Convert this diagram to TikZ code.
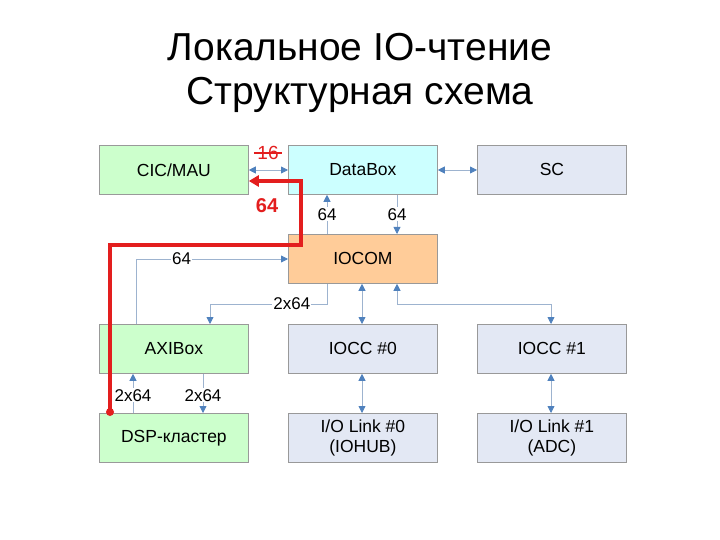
\documentclass[tikz,border=0pt]{standalone}
\usepackage{fontspec}
\setmainfont{Liberation Sans}
\usetikzlibrary{arrows.meta}
\definecolor{gr}{HTML}{CCFFCC}
\definecolor{cy}{HTML}{CCFFFF}
\definecolor{lv}{HTML}{E3E8F4}
\definecolor{og}{HTML}{FFCC99}
\definecolor{ln}{HTML}{9DB3CF}
\definecolor{ah}{HTML}{4F81BD}
\definecolor{rd}{HTML}{E31E1E}
\begin{document}
\begin{tikzpicture}[x=1pt,y=-1pt,
 box/.style={draw=gray!80,line width=0.8pt,minimum width=149pt,minimum height=49pt,inner sep=0pt,font=\fontsize{17.5}{20}\selectfont,align=center,anchor=north west},
 con/.style={draw=ln,line width=0.8pt,{Triangle[length=7pt,width=7pt,fill=ah,color=ah]}-{Triangle[length=7pt,width=7pt,fill=ah,color=ah]}},
 one/.style={draw=ln,line width=0.8pt,-{Triangle[length=7pt,width=7pt,fill=ah,color=ah]}},
 lb/.style={fill=white,inner sep=1pt,font=\fontsize{17}{19}\selectfont}]
\useasboundingbox (0,0) rectangle (720,540);
\node at (360,47) {\fontsize{39}{44}\selectfont Локальное IO-чтение};
\node at (360,95) {\fontsize{39}{44}\selectfont Структурная схема};
\node[box,fill=gr] (cic) at (99,145) {CIC/MAU};
\node[box,fill=cy] (db) at (288,145) {DataBox};
\node[box,fill=lv] (sc) at (477,145) {SC};
\node[box,fill=og] (io) at (288,234) {IOCOM};
\node[box,fill=gr] (axi) at (99,324) {AXIBox};
\node[box,fill=lv] (c0) at (288,324) {IOCC \#0};
\node[box,fill=lv] (c1) at (477,324) {IOCC \#1};
\node[box,fill=gr] (dsp) at (99,413) {DSP-кластер};
\node[box,fill=lv] (l0) at (288,413) {I/O Link \#0\\(IOHUB)};
\node[box,fill=lv] (l1) at (477,413) {I/O Link \#1\\(ADC)};
\path[con] (cic.east |- 0,170) -- (db.west |- 0,170);
\path[con] (db.east |- 0,170) -- (sc.west |- 0,170);
\path[one] (327,0 |- io.north) -- (327,0 |- db.south) node[pos=0.5,lb] {64};
\path[one] (397,0 |- db.south) -- (397,0 |- io.north) node[pos=0.5,lb] {64};
\path[one] (136,0 |- axi.north) |- (io.west |- 0,259) node[pos=0.65,lb] {64};
\path[one] (327,0 |- io.south) |- (210,304) node[pos=0.65,lb] {2x64} -- (210,0 |- axi.north);
\path[con] (362,0 |- io.south) -- (362,0 |- c0.north);
\path[con] (397,0 |- io.south) -- (397,304) -| (551,0 |- c1.north);
\path[one] (133,0 |- dsp.north) -- (133,0 |- axi.south) node[pos=0.45,lb] {2x64};
\path[one] (203,0 |- axi.south) -- (203,0 |- dsp.north) node[pos=0.55,lb] {2x64};
\path[con] (362,0 |- c0.south) -- (362,0 |- l0.north);
\path[con] (551,0 |- c1.south) -- (551,0 |- l1.north);
\node[text=rd,font=\fontsize{19}{22}\selectfont] (s16) at (268,153) {16};
\draw[rd,line width=1.2pt] (s16.west) -- (s16.east);
\fill[rd] (110,412) circle (4pt) coordinate (st);
\draw[rd,line width=3.5pt,-{Triangle[length=10pt,width=11pt]}] (st) -- (110,245) -- (301,245) -- (301,181) -- (cic.east |- 0,181);
\node[text=rd,font=\bfseries\fontsize{20}{24}\selectfont] at (267,206) {64};
\end{tikzpicture}
\end{document}
